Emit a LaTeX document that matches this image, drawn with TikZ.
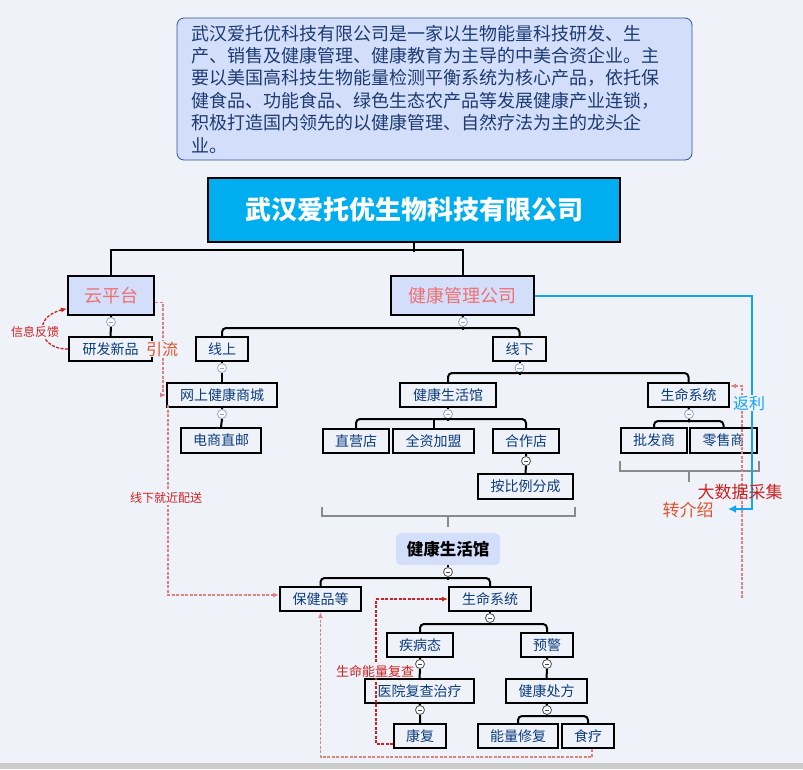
\documentclass[tikz,border=0pt]{standalone}
\usepackage{fontspec}
\setmainfont{Noto Sans CJK SC}
\definecolor{atpaper}{HTML}{EFF2F8}
\definecolor{atnote}{HTML}{D2DEFA}
\definecolor{atnoteline}{HTML}{2B5595}
\definecolor{atnavy}{HTML}{0B3D7E}
\definecolor{atink}{HTML}{1D3B72}
\definecolor{atcyan}{HTML}{00AEEF}
\definecolor{atpink}{HTML}{F07070}
\definecolor{atred}{HTML}{CC2222}
\definecolor{atorange}{HTML}{DD5530}
\definecolor{atrose}{HTML}{DC8282}
\definecolor{atsky}{HTML}{12A6F0}
\definecolor{atgrey}{HTML}{8A8A8A}
\definecolor{atfold}{HTML}{8FA3D3}
\usepackage{tikz}
\usetikzlibrary{arrows.meta,positioning,calc}

\begin{document}
\begin{tikzpicture}[
    x=1pt, y=-1pt,
    tbox/.style={draw=black, fill=atpaper, line width=2pt, inner sep=0pt,
                 minimum height=24pt, text=atnavy, font=\fontsize{14}{16}\selectfont},
    hub/.style={tbox, fill=atnote, minimum height=39pt, text=atpink,
                font=\fontsize{18}{20}\selectfont},
    fold/.style={circle, draw=#1, fill=white, line width=0.8pt,
                 minimum size=9pt, inner sep=0pt,
                 path picture={\draw[#1, line width=0.9pt]
                   ([xshift=-2.2pt]path picture bounding box.center) --
                   ([xshift=2.2pt]path picture bounding box.center);}},
    fold/.default=atfold,
    link/.style={line width=2pt, black, rounded corners=4pt},
    brace/.style={line width=2pt, atgrey},
    flow/.style={atrose, line width=1.3pt, dash pattern=on 3pt off 1.5pt,
                 -{Latex[length=6pt,width=5pt]}},
    tag/.style={inner sep=1pt, font=\fontsize{#1}{#1}\selectfont},
    tag/.default=12,
  ]
  \useasboundingbox (0,0) rectangle (803,769);
  \fill[atpaper] (0,0) rectangle (803,769);
  \fill[black!20] (0,763) rectangle (803,769);

  \node[draw=atnoteline, fill=atnote, rounded corners=7pt, line width=0.8pt,
        text width=487pt, inner xsep=14pt, minimum height=142pt, align=left,
        text=atink, font=\fontsize{18}{22.4}\selectfont] (intro) at (434.5,89)
       {武汉爱托优科技有限公司是一家以生物能量科技研发、生\\
        产、销售及健康管理、健康教育为主导的中美合资企业。主\\
        要以美国高科技生物能量检测平衡系统为核心产品，依托保\\
        健食品、功能食品、绿色生态农产品等发展健康产业连锁，\\
        积极打造国内领先的以健康管理、自然疗法为主的龙头企\\
        业。};
  \node[draw=black, fill=atcyan, line width=2pt, minimum width=412pt,
        minimum height=64pt, text=white,
        font=\fontsize{26}{30}\selectfont\bfseries] (corp) at (414,210)
       {武汉爱托优生物科技有限公司};

  \node[hub, minimum width=86pt]  (yun)  at (111,295.5)   {云平台};
  \node[hub, minimum width=143pt] (jkgl) at (462.5,295.5) {健康管理公司};
  \node[tbox, minimum width=83pt]  (yanfa) at (110.5,349) {研发新品};
  \node[tbox, minimum width=52pt]  (xs)    at (222,349)   {线上};
  \node[tbox, minimum width=53pt]  (xx)    at (519.5,349) {线下};
  \node[tbox, minimum width=110pt] (shop)  at (222,395)   {网上健康商城};
  \node[tbox, minimum width=80pt, minimum height=25pt] (mail) at (221,440.5) {电商直邮};
  \node[tbox, minimum width=96pt]  (hall)  at (448,395)   {健康生活馆};
  \node[tbox, minimum width=66pt]  (direct)    at (356,441)   {直营店};
  \node[tbox, minimum width=81pt]  (franchise) at (433.5,441) {全资加盟};
  \node[tbox, minimum width=66pt]  (coop)      at (526,441)   {合作店};
  \node[tbox, minimum width=95pt, minimum height=25pt] (share) at (525.5,486.5) {按比例分成};
  \node[tbox, minimum width=81pt]  (life)  at (688.5,395) {生命系统};
  \node[tbox, minimum width=66pt, minimum height=25pt] (whole)  at (654,440.5)   {批发商};
  \node[tbox, minimum width=67pt, minimum height=25pt] (retail) at (723.5,440.5) {零售商};

  \node[fill=atnote, rounded corners=5pt, minimum width=104pt, minimum height=32pt,
        inner sep=0pt, font=\fontsize{16.5}{18}\selectfont\bfseries] (hall2) at (448,549) {健康生活馆};
  \node[tbox, minimum width=81pt]  (care)   at (320.5,599) {保健品等};
  \node[tbox, minimum width=82pt]  (life2)  at (490,599)   {生命系统};
  \node[tbox, minimum width=66pt]  (ill)    at (420,645)   {疾病态};
  \node[tbox, minimum width=52pt]  (warn)   at (547,645)   {预警};
  \node[tbox, minimum width=109pt] (hosp)   at (419.5,691) {医院复查治疗};
  \node[tbox, minimum width=81pt]  (presc)  at (546.5,691) {健康处方};
  \node[tbox, minimum width=52pt]  (rehab)  at (420,736)   {康复};
  \node[tbox, minimum width=80pt]  (repair) at (518,736)   {能量修复};
  \node[tbox, minimum width=52pt]  (diet)   at (588,736)   {食疗};

  \foreach \id/\x/\y in {yun/111/322, jkgl/463/322, xs/222/368, shop/222/414,
                         xx/519.5/368, hall/448/414, life/689/414}
    \node[fold] (f-\id) at (\x,\y) {};
  \foreach \id/\x/\y in {coop/526/461, hall2/448/572, life2/490/618, ill/420/664,
                         warn/547/664, hosp/420/710, presc/547/710}
    \node[fold=black!70] (f-\id) at (\x,\y) {};

  \draw[link, rounded corners=0pt] (corp.south) -- ++(0,9);
  \draw[link, rounded corners=0pt] (yun.north) -- ++(0,-25) -| (jkgl.north);
  \draw[link] (yun.south) -- (f-yun.north) (f-yun.south) -- (yanfa.north);
  \draw[link] (jkgl.south) -- (f-jkgl.north) (f-jkgl.south) -- ++(0,3);
  \draw[link] (xs.north) -- ++(0,-8) -| (xx.north);
  \draw[link] (xs.south) -- (f-xs.north) (f-xs.south) -- (shop.north);
  \draw[link] (shop.south) -- (f-shop.north) (f-shop.south) -- (mail.north);
  \draw[link] (xx.south) -- (f-xx.north) (f-xx.south) -- ++(0,2);
  \draw[link] (hall.north) -- ++(0,-9) -| (life.north);
  \draw[link] (hall.south) -- (f-hall.north) (f-hall.south) -- ++(0,2);
  \draw[link] (direct.north) -- ++(0,-9) -| (coop.north);
  \draw[link] (franchise.north) -- ++(0,-9);
  \draw[link] (coop.south) -- (f-coop.north) (f-coop.south) -- (share.north);
  \draw[link] (life.south) -- (f-life.north) (f-life.south) -- ++(0,3.5);
  \draw[link] (whole.north) -- ++(0,-6) -| (retail.north);

  \draw[link] (hall2.south) -- (f-hall2.north) (f-hall2.south) -- ++(0,3);
  \draw[link] (care.north) -- ++(0,-8) -| (life2.north);
  \draw[link] (life2.south) -- (f-life2.north) (f-life2.south) -- ++(0,2);
  \draw[link] (ill.north) -- ++(0,-8) -| (warn.north);
  \draw[link] (ill.south) -- (f-ill.north) (f-ill.south) -- (hosp.north);
  \draw[link] (warn.south) -- (f-warn.north) (f-warn.south) -- (presc.north);
  \draw[link] (hosp.south) -- (f-hosp.north) (f-hosp.south) -- (rehab.north);
  \draw[link] (presc.south) -- (f-presc.north) (f-presc.south) -- ++(0,2);
  \draw[link] (repair.north) -- ++(0,-7) -| (diet.north);

  \draw[brace] (322,507) -- (322,516) -- (575,516) -- (575,507) (448,516) -- (448,527);
  \draw[brace] (620,461) -- (620,471) -- (759,471) -- (759,461) (689,471) -- (689,482);

  \coordinate (collect) at (742,598);
  \coordinate (refer)   at (728,509);
  \draw[flow, atred] (yanfa.west) .. controls (40,350) and (30,318) .. ([yshift=-13pt]yun.west);
  \draw[flow] ([yshift=-7pt]yun.east) -- ++(8,0) |- (shop.west);
  \draw[flow] ([xshift=2pt,yshift=-10pt]shop.west) |- ([yshift=4pt]care.west);
  \draw[flow, atred] ([yshift=-8pt]rehab.west) -- ++(-17,0) |- (life2.west);
  \draw[flow] ([xshift=4pt]diet.south) -- ++(0,8) -| (care.south);
  \draw[flow] (collect) |- ([yshift=9pt]life.east);
  \draw[atsky, line width=2pt, -{Latex[length=8pt,width=8pt]}]
       (jkgl.east) -- ++(217,0) |- (refer);

  \node[tag, text=atred, fill=atpaper] (feedback) at (35,332) {信息反馈};
  \node[tag=16, text=atorange, fill=atpaper] (traffic) at (162,349) {引流};
  \node[tag, text=atred, fill=atpaper] (deliver) at (166,498) {线下就近配送};
  \node[tag=13, text=atred, fill=atpaper] (recheck) at (375,671) {生命能量复查};
  \node[tag=16, text=atsky, fill=atpaper] (rebate) at (749,403) {返利};
  \node[tag=17, text=atred] (bigdata) at (740,492) {大数据采集};
  \node[tag=17, text=atorange] (referral) at (688,510) {转介绍};
\end{tikzpicture}
\end{document}
